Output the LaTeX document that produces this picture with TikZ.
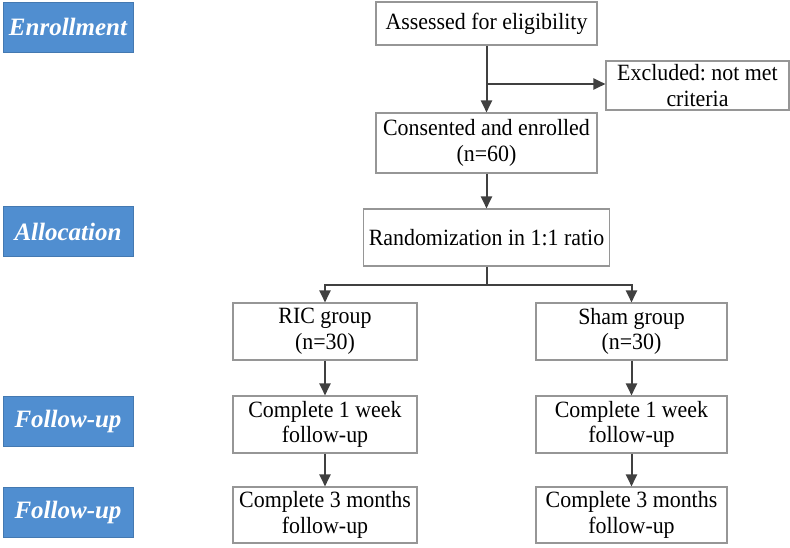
\documentclass[tikz,border=0pt]{standalone}
\usepackage{fontspec}
\setmainfont{Liberation Serif}
\newfontfamily\flowfont[FakeStretch=0.94]{Liberation Serif}
\usetikzlibrary{arrows.meta}
\definecolor{stageblue}{RGB}{80,142,208}
\definecolor{linegray}{RGB}{64,64,64}
\definecolor{boxgray}{RGB}{150,150,150}
\frenchspacing
\begin{document}
\begin{tikzpicture}[x=1pt,y=-1pt,
  flowbox/.style={draw=boxgray,line width=1.1pt,fill=white,inner sep=0pt,align=center,
    font=\flowfont\fontsize{23.3}{25.5}\selectfont},
  stagebox/.style={fill=stageblue,draw=stageblue!85!black,line width=0.6pt,inner sep=0pt,
    minimum width=130pt,minimum height=50pt,text=white,
    font=\fontsize{25}{28}\selectfont\bfseries\itshape},
  conn/.style={draw=linegray,line width=2pt},
  arr/.style={conn,-{Triangle[width=11pt,length=12pt]}}
]
\useasboundingbox (0,0) rectangle (790,547);
% stage labels
\node[stagebox] (sEnr) at (68,27) {Enrollment};
\node[stagebox] (sAll) at (68,231.5) {Allocation};
\node[stagebox] (sF1) at (68,421) {Follow-up};
\node[stagebox] (sF2) at (68,512) {Follow-up};
% flow boxes
\node[flowbox,minimum width=221pt,minimum height=43pt] (assess) at (486.5,23.5) {Assessed for eligibility};
\node[flowbox,minimum width=183pt,minimum height=49pt] (excl) at (697.5,85.5) {Excluded: not met\\criteria};
\node[flowbox,minimum width=221pt,minimum height=60pt] (consent) at (486.5,143) {Consented and enrolled\\(n=60)};
\node[flowbox,minimum width=246pt,minimum height=57pt] (rand) at (486.5,237.5) {Randomization in 1:1 ratio};
\node[flowbox,minimum width=184pt,minimum height=57pt] (ric) at (325,331.5) {RIC group\\(n=30)};
\node[flowbox,minimum width=191pt,minimum height=57pt] (sham) at (631.5,331.5) {Sham group\\(n=30)};
\node[flowbox,minimum width=184pt,minimum height=57pt] (ricA) at (325,424.5) {Complete 1 week\\follow-up};
\node[flowbox,minimum width=191pt,minimum height=57pt] (shamA) at (631.5,424.5) {Complete 1 week\\follow-up};
\node[flowbox,minimum width=184pt,minimum height=56pt] (ricB) at (325,515) {Complete 3 months\\follow-up};
\node[flowbox,minimum width=191pt,minimum height=56pt] (shamB) at (631.5,515) {Complete 3 months\\follow-up};
% connectors
\coordinate (br) at (486.5,84);
\coordinate (sp) at (486.5,285);
\draw[arr] (assess.south) -- (consent.north);
\draw[arr] (br) -- (br -| excl.west);
\draw[arr] (consent.south) -- (rand.north);
\draw[conn] (rand.south) -- (sp);
\draw[arr] (sp) -| (ric.north);
\draw[arr] (sp) -| (sham.north);
\draw[arr] (ric.south) -- (ricA.north);
\draw[arr] (sham.south) -- (shamA.north);
\draw[arr] (ricA.south) -- (ricB.north);
\draw[arr] (shamA.south) -- (shamB.north);
\end{tikzpicture}
\end{document}
